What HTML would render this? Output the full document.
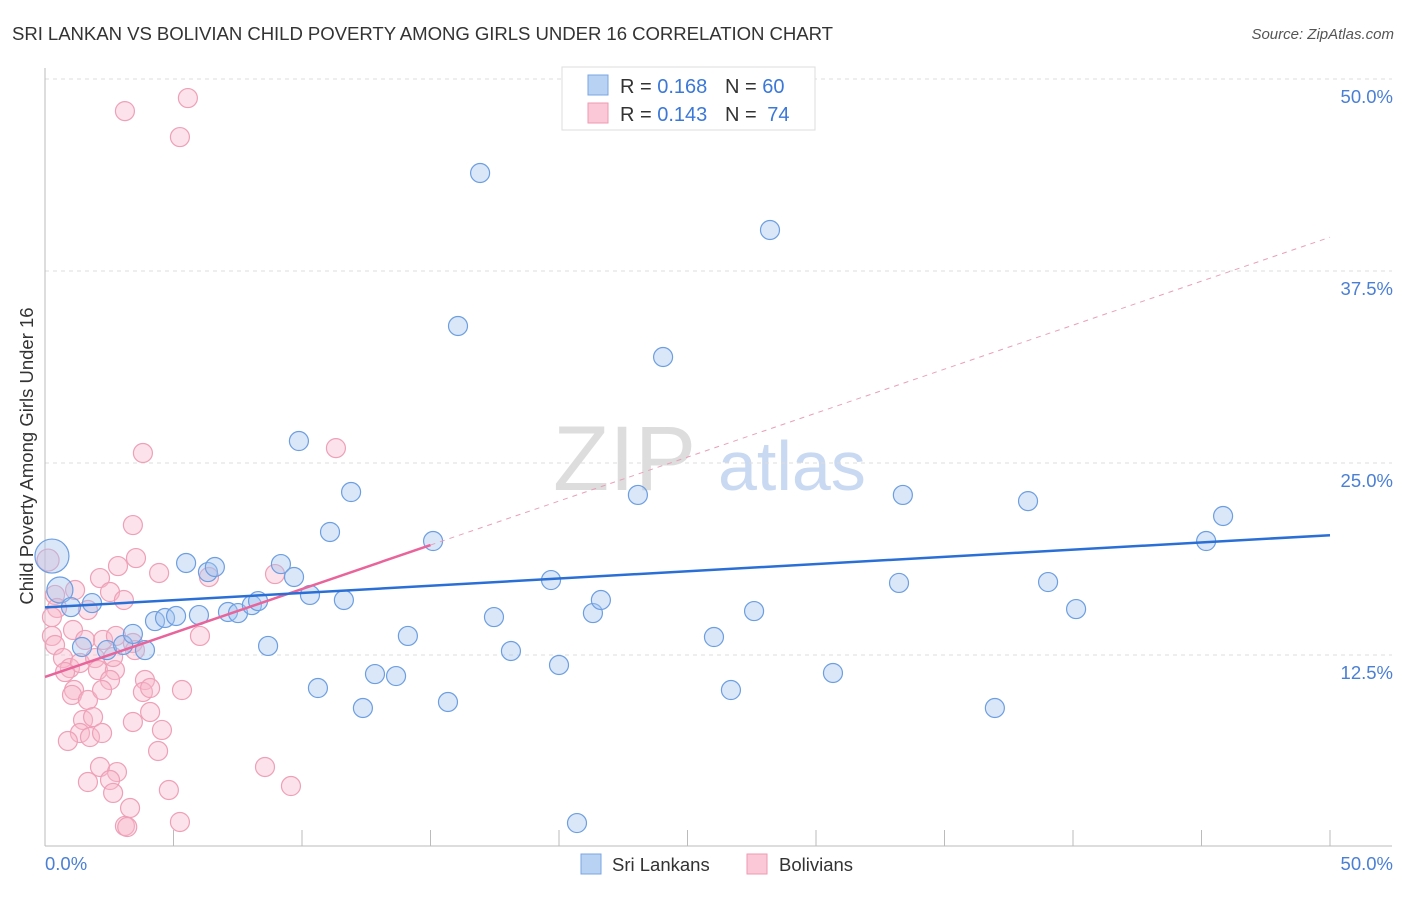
<!DOCTYPE html>
<html><head><meta charset="utf-8"><style>
body{margin:0;background:#fff;font-family:"Liberation Sans",sans-serif;}
svg text{font-family:"Liberation Sans",sans-serif;}
</style></head><body>
<svg id="c" width="1406" height="892">
<text x="12" y="40" font-size="18.6" fill="#333" textLength="821">SRI LANKAN VS BOLIVIAN CHILD POVERTY AMONG GIRLS UNDER 16 CORRELATION CHART</text>
<text x="1394" y="39" font-size="15" fill="#555" text-anchor="end" font-style="italic">Source: ZipAtlas.com</text>
<text x="33" y="456" font-size="18.5" fill="#333" text-anchor="middle" transform="rotate(-90 33 456)">Child Poverty Among Girls Under 16</text>
<g><text x="553" y="490" font-size="92" fill="#ddd" font-family="Liberation Serif">ZIP</text><text x="718" y="490" font-size="70" fill="#c9d9f2">atlas</text></g>
<g id="grid"></g><g id="pts"></g><g id="lines"></g>
<g>
<rect x="562" y="67" width="253" height="63" fill="#fff" stroke="#ddd"/>
<rect x="588" y="75" width="20" height="20" fill="#b8d2f4" stroke="#7aa6e0"/>
<rect x="588" y="103" width="20" height="20" fill="#fac8d6" stroke="#ee9ab3"/>
<text x="620" y="93" font-size="20" fill="#333">R = <tspan fill="#3b78d8">0.168</tspan></text>
<text x="725" y="93" font-size="20" fill="#333">N = <tspan fill="#3b78d8">60</tspan></text>
<text x="620" y="121" font-size="20" fill="#333">R = <tspan fill="#3b78d8">0.143</tspan></text>
<text x="725" y="121" font-size="20" fill="#333">N = <tspan fill="#3b78d8" dx="5">74</tspan></text>
</g>
<g>
<rect x="581" y="854" width="20" height="20" fill="#b8d2f4" stroke="#7aa6e0"/>
<text x="612" y="871" font-size="18.5" fill="#333">Sri Lankans</text>
<rect x="747" y="854" width="20" height="20" fill="#fac8d6" stroke="#ee9ab3"/>
<text x="779" y="871" font-size="18.5" fill="#333">Bolivians</text>
</g>
</svg>
<script>
const yTicks=[12.5,25,37.5,50];
const yTickLabels=["12.5%","25.0%","37.5%","50.0%"];
const xTickLabels=["0.0%","50.0%"];
const blueX=[0.27,0.58,1.01,1.83,1.44,2.41,3.04,3.42,3.89,4.28,4.67,5.10,5.49,5.99,6.34,6.61,7.12,7.51,8.05,8.29,8.68,9.18,9.69,9.88,10.31,10.62,11.09,11.63,11.91,12.37,12.84,13.66,14.12,15.10,15.68,16.07,16.93,17.47,18.13,19.69,20.00,20.70,21.32,21.63,23.07,24.05,26.03,26.69,27.59,28.21,30.66,33.23,33.38,36.96,38.25,39.03,40.12,45.18,45.84];
const blueY=[18.94,16.73,15.62,15.88,13.02,12.82,13.15,13.87,12.82,14.71,14.91,15.04,18.49,15.10,17.90,18.23,15.30,15.23,15.75,16.01,13.09,18.42,17.58,26.43,16.41,10.35,20.51,16.08,23.11,9.05,11.26,11.13,13.74,19.92,9.44,33.92,43.88,14.97,12.76,17.38,11.85,1.56,15.23,16.08,22.92,31.90,13.67,10.22,15.36,40.17,11.33,17.19,22.92,9.05,22.52,17.25,15.49,19.92,21.55];
const pinkX=[3.11,5.56,5.25,3.81,11.32,3.42,3.54,2.84,4.44,2.14,2.53,1.17,0.12,0.39,0.47,6.38,8.95,1.67,1.09,0.27,0.39,1.56,2.26,2.76,3.42,6.03,0.70,0.97,1.36,1.95,0.78,2.06,2.72,2.53,3.89,1.13,1.05,1.67,2.22,3.81,5.33,1.48,1.87,1.36,1.75,2.22,4.09,3.42,4.55,0.89,4.40,1.67,2.14,2.80,2.53,2.65,3.31,4.82,8.56,9.57,3.11,5.25,3.20,3.50,2.65,3.07,0.27,4.09];
const pinkY=[47.91,48.76,46.22,25.65,25.97,20.96,18.81,18.29,17.84,17.51,16.60,16.73,18.68,16.41,15.56,17.58,17.77,15.43,14.13,13.74,13.15,13.48,13.48,13.74,13.28,13.74,12.30,11.65,11.98,12.30,11.39,11.52,11.52,10.87,10.87,10.22,9.90,9.57,10.22,10.09,10.22,8.27,8.46,7.42,7.16,7.42,8.79,8.14,7.62,6.90,6.25,4.23,5.21,4.88,4.36,3.52,2.54,3.71,5.21,3.97,1.37,1.63,1.30,12.82,12.37,16.08,14.97,10.35];
const blueTrend=[15.6,20.3];
const pinkTrend=[11.07,39.7];
const NS="http://www.w3.org/2000/svg";
const X=v=>45+v/50*1285, Y=v=>847-v/12.5*192;
function mk(t,a,p){const e=document.createElementNS(NS,t);for(const k in a)e.setAttribute(k,a[k]);p.appendChild(e);return e;}
const g=document.getElementById('grid');
yTicks.forEach((t,i)=>{
 const l=mk('line',{x1:45,x2:1392,y1:Y(t),y2:Y(t),stroke:'#ddd','stroke-dasharray':'4,4'},g);
 
 
 const tx=mk('text',{x:1393,y:Y(t)+24,'font-size':18.5,fill:'#4a7fd4','text-anchor':'end'},g);
 tx.textContent=yTickLabels[i];
 
 
});
const ax=mk('line',{x1:45,x2:45,y1:68,y2:846,stroke:'#bbb'},g);


const bx=mk('line',{x1:45,x2:1392,y1:846,y2:846,stroke:'#bbb'},g);


for(let i=1;i<=10;i++){
 const t=mk('line',{x1:X(i*5),x2:X(i*5),y1:830,y2:846,stroke:'#bbb'},g);
 
 
}
[[0,'start',45],[1,'end',1393]].forEach(([i,a,x])=>{
 const t=mk('text',{x:x,y:870,'font-size':18.5,fill:'#4a7fd4','text-anchor':a},g);
 t.textContent=xTickLabels[i];
 
 
});
const p=document.getElementById('pts');
pinkX.forEach((v,i)=>{
 const c=mk('circle',{cx:X(v),cy:Y(pinkY[i]),r:i==12?11:9.5,fill:'rgba(248,182,202,0.4)',stroke:'#eea0b8','stroke-width':1.2},p);
 
 
});
blueX.forEach((v,i)=>{
 const c=mk('circle',{cx:X(v),cy:Y(blueY[i]),r:i==0?17:(i==1?13:9.5),fill:'rgba(160,196,240,0.4)',stroke:'#6d9ee0','stroke-width':1.2},p);
 
 
});
const L=document.getElementById('lines');
const pAt=x=>pinkTrend[0]+(pinkTrend[1]-pinkTrend[0])*x/50;
let e=mk('line',{x1:X(15),y1:Y(pAt(15)),x2:X(50),y2:Y(pAt(50)),stroke:'#e8a0b8','stroke-width':1,'stroke-dasharray':'5,5'},L);


e=mk('line',{x1:X(0),y1:Y(pAt(0)),x2:X(15),y2:Y(pAt(15)),stroke:'#e8649a','stroke-width':2.5},L);


e=mk('line',{x1:X(0),y1:Y(blueTrend[0]),x2:X(50),y2:Y(blueTrend[1]),stroke:'#2a6fd6','stroke-width':2.5},L);


</script>
</body></html>
